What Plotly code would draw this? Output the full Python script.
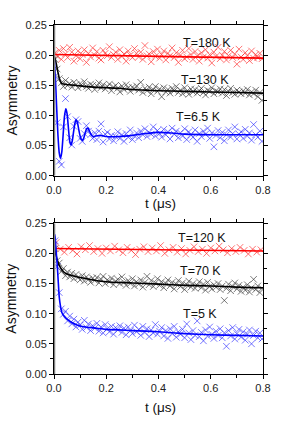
import plotly.graph_objects as go

# ---------------- data ----------------
T_GRID = [0.004, 0.012, 0.020, 0.028, 0.036, 0.044, 0.052, 0.060, 0.068, 0.076,
          0.084, 0.092, 0.100, 0.108, 0.116, 0.124, 0.132, 0.140, 0.148, 0.156,
          0.164, 0.172, 0.180, 0.188, 0.196, 0.204, 0.212, 0.220, 0.228, 0.236,
          0.244, 0.252, 0.260, 0.268, 0.276, 0.284, 0.292, 0.300, 0.308, 0.316,
          0.324, 0.332, 0.340, 0.348, 0.356, 0.364, 0.372, 0.380, 0.388, 0.396,
          0.404, 0.412, 0.420, 0.428, 0.436, 0.444, 0.452, 0.460, 0.468, 0.476,
          0.484, 0.492, 0.500, 0.508, 0.516, 0.524, 0.532, 0.540, 0.548, 0.556,
          0.564, 0.572, 0.580, 0.588, 0.596, 0.604, 0.612, 0.620, 0.628, 0.636,
          0.644, 0.652, 0.660, 0.668, 0.676, 0.684, 0.692, 0.700, 0.708, 0.716,
          0.724, 0.732, 0.740, 0.748, 0.756, 0.764, 0.772, 0.780, 0.788, 0.796]

T_GRID_SPARSE = [0.008, 0.024, 0.040, 0.056, 0.072, 0.088, 0.104, 0.120, 0.136, 0.152,
                 0.168, 0.184, 0.200, 0.216, 0.232, 0.248, 0.264, 0.280, 0.296, 0.312,
                 0.328, 0.344, 0.360, 0.376, 0.392, 0.408, 0.424, 0.440, 0.456, 0.472,
                 0.488, 0.504, 0.520, 0.536, 0.552, 0.568, 0.584, 0.600, 0.616, 0.632,
                 0.648, 0.664, 0.680, 0.696, 0.712, 0.728, 0.744, 0.760, 0.776, 0.792]

# top panel data
A_180K = [0.204, 0.198, 0.208, 0.193, 0.211, 0.202, 0.196, 0.213, 0.205, 0.190,
          0.199, 0.207, 0.194, 0.201, 0.209, 0.188, 0.203, 0.197, 0.212, 0.200,
          0.206, 0.195, 0.192, 0.208, 0.203, 0.199, 0.214, 0.196, 0.201, 0.205,
          0.193, 0.209, 0.198, 0.202, 0.190, 0.207, 0.200, 0.196, 0.211, 0.203,
          0.197, 0.205, 0.193, 0.216, 0.199, 0.202, 0.189, 0.206, 0.198, 0.210,
          0.195, 0.201, 0.207, 0.192, 0.203, 0.199, 0.212, 0.196, 0.204, 0.188,
          0.200, 0.208, 0.194, 0.197, 0.211, 0.201, 0.193, 0.206, 0.199, 0.190,
          0.204, 0.197, 0.209, 0.195, 0.201, 0.187, 0.205, 0.198, 0.213, 0.194,
          0.200, 0.206, 0.192, 0.199, 0.208, 0.196, 0.202, 0.185, 0.210, 0.197,
          0.193, 0.204, 0.199, 0.191, 0.207, 0.195, 0.201, 0.196, 0.203, 0.194]

A_130K = [0.193, 0.177, 0.161, 0.154, 0.148, 0.158, 0.150, 0.153, 0.147, 0.155,
          0.151, 0.146, 0.153, 0.149, 0.156, 0.148, 0.145, 0.152, 0.150, 0.143,
          0.149, 0.154, 0.146, 0.151, 0.144, 0.148, 0.152, 0.141, 0.147, 0.150,
          0.145, 0.139, 0.149, 0.143, 0.151, 0.146, 0.140, 0.147, 0.144, 0.149,
          0.142, 0.155, 0.138, 0.145, 0.141, 0.147, 0.136, 0.143, 0.148, 0.140,
          0.144, 0.131, 0.146, 0.139, 0.143, 0.137, 0.145, 0.141, 0.148, 0.138,
          0.142, 0.136, 0.146, 0.140, 0.135, 0.144, 0.139, 0.143, 0.137, 0.141,
          0.145, 0.138, 0.134, 0.142, 0.140, 0.146, 0.136, 0.141, 0.139, 0.144,
          0.137, 0.143, 0.133, 0.140, 0.145, 0.138, 0.135, 0.142, 0.139, 0.136,
          0.141, 0.137, 0.143, 0.134, 0.139, 0.136, 0.142, 0.131, 0.138, 0.125]

A_6_5K = [0.165, 0.088, 0.024, 0.018, 0.081, 0.128, 0.098, 0.063, 0.051, 0.082,
          0.093, 0.090, 0.062, 0.057, 0.070, 0.083, 0.074, 0.068, 0.062, 0.071,
          0.060, 0.074, 0.086, 0.056, 0.069, 0.072, 0.061, 0.067, 0.058, 0.065,
          0.073, 0.062, 0.068, 0.057, 0.070, 0.064, 0.076, 0.060, 0.066, 0.071,
          0.063, 0.074, 0.068, 0.078, 0.065, 0.072, 0.069, 0.081, 0.066, 0.075,
          0.070, 0.064, 0.077, 0.068, 0.073, 0.061, 0.079, 0.069, 0.074, 0.063,
          0.071, 0.066, 0.078, 0.060, 0.073, 0.068, 0.064, 0.076, 0.057, 0.070,
          0.065, 0.074, 0.069, 0.079, 0.062, 0.071, 0.048, 0.067, 0.075, 0.063,
          0.072, 0.058, 0.068, 0.076, 0.064, 0.070, 0.081, 0.061, 0.069, 0.073,
          0.062, 0.077, 0.066, 0.071, 0.059, 0.085, 0.068, 0.064, 0.074, 0.057]

# bottom panel data
A_120K = [0.218, 0.207, 0.202, 0.210, 0.205, 0.199, 0.211, 0.206, 0.213, 0.203,
          0.208, 0.200, 0.209, 0.204, 0.212, 0.206, 0.201, 0.210, 0.205, 0.198,
          0.207, 0.211, 0.203, 0.209, 0.204, 0.213, 0.200, 0.206, 0.210, 0.202,
          0.208, 0.199, 0.205, 0.211, 0.203, 0.207, 0.200, 0.209, 0.204, 0.212,
          0.206, 0.201, 0.208, 0.203, 0.210, 0.205, 0.199, 0.207, 0.202, 0.206]

A_70K = [0.208, 0.188, 0.184, 0.170, 0.175, 0.163, 0.169, 0.161, 0.167, 0.158,
         0.165, 0.160, 0.156, 0.163, 0.154, 0.161, 0.157, 0.152, 0.159, 0.155,
         0.160, 0.151, 0.157, 0.162, 0.150, 0.156, 0.153, 0.159, 0.148, 0.154,
         0.157, 0.150, 0.161, 0.152, 0.147, 0.155, 0.150, 0.158, 0.146, 0.153,
         0.149, 0.156, 0.144, 0.152, 0.162, 0.148, 0.155, 0.145, 0.151, 0.158,
         0.147, 0.153, 0.143, 0.150, 0.156, 0.146, 0.152, 0.141, 0.149, 0.155,
         0.145, 0.151, 0.140, 0.148, 0.154, 0.144, 0.150, 0.142, 0.147, 0.153,
         0.143, 0.149, 0.139, 0.152, 0.145, 0.141, 0.148, 0.144, 0.150, 0.140,
         0.146, 0.122, 0.142, 0.149, 0.138, 0.145, 0.151, 0.141, 0.147, 0.137,
         0.144, 0.139, 0.148, 0.136, 0.143, 0.157, 0.140, 0.146, 0.135, 0.142]

A_5K = [0.221, 0.178, 0.135, 0.108, 0.099, 0.104, 0.088, 0.096, 0.083, 0.091,
        0.078, 0.086, 0.081, 0.074, 0.089, 0.077, 0.083, 0.072, 0.080, 0.076,
        0.084, 0.071, 0.078, 0.068, 0.082, 0.075, 0.070, 0.079, 0.066, 0.077,
        0.073, 0.080, 0.069, 0.076, 0.065, 0.078, 0.072, 0.067, 0.081, 0.070,
        0.074, 0.064, 0.079, 0.069, 0.075, 0.062, 0.073, 0.068, 0.082, 0.066,
        0.071, 0.077, 0.063, 0.072, 0.059, 0.075, 0.067, 0.079, 0.061, 0.070,
        0.066, 0.074, 0.060, 0.083, 0.068, 0.057, 0.072, 0.064, 0.088, 0.062,
        0.069, 0.055, 0.073, 0.063, 0.078, 0.066, 0.059, 0.071, 0.064, 0.075,
        0.060, 0.068, 0.046, 0.072, 0.063, 0.077, 0.058, 0.067, 0.074, 0.061,
        0.070, 0.056, 0.066, 0.073, 0.050, 0.064, 0.071, 0.060, 0.068, 0.058]

# fit curves
FIT_T_180K = [0.0, 0.4, 0.8]
FIT_A_180K = [0.201, 0.198, 0.195]

FIT_T_130K = [0.0, 0.005, 0.01, 0.015, 0.02, 0.025, 0.03, 0.04, 0.05, 0.06, 0.08, 0.1,
              0.15, 0.2, 0.25, 0.3, 0.35, 0.4, 0.5, 0.6, 0.7, 0.8]
FIT_A_130K = [0.200, 0.193, 0.183, 0.172, 0.162, 0.156, 0.153, 0.152, 0.151, 0.151, 0.150, 0.149,
              0.147, 0.146, 0.145, 0.143, 0.142, 0.141, 0.140, 0.139, 0.138, 0.137]

FIT_T_6_5K = [0.0, 0.005, 0.01, 0.015, 0.02, 0.025, 0.03, 0.035, 0.04, 0.045, 0.05, 0.055,
              0.06, 0.065, 0.07, 0.075, 0.08, 0.085, 0.09, 0.095, 0.1, 0.105, 0.11, 0.115,
              0.12, 0.125, 0.13, 0.135, 0.14, 0.15, 0.16, 0.18, 0.2, 0.25, 0.3, 0.35, 0.4,
              0.45, 0.5, 0.6, 0.7, 0.8]
FIT_A_6_5K = [0.200, 0.165, 0.115, 0.068, 0.038, 0.029, 0.040, 0.068, 0.098, 0.111, 0.103, 0.080,
              0.058, 0.051, 0.058, 0.073, 0.087, 0.093, 0.088, 0.076, 0.066, 0.060, 0.059, 0.064,
              0.072, 0.078, 0.079, 0.075, 0.070, 0.065, 0.066, 0.067, 0.065, 0.065, 0.067, 0.070, 0.072,
              0.071, 0.069, 0.068, 0.068, 0.068]

FIT_T_120K = [0.0, 0.4, 0.8]
FIT_A_120K = [0.208, 0.206, 0.204]

FIT_T_70K = [0.0, 0.005, 0.01, 0.015, 0.02, 0.03, 0.04, 0.06, 0.08, 0.1, 0.15, 0.2,
             0.3, 0.4, 0.5, 0.6, 0.7, 0.8]
FIT_A_70K = [0.217, 0.203, 0.193, 0.186, 0.180, 0.173, 0.168, 0.164, 0.162, 0.160, 0.156, 0.153,
             0.151, 0.149, 0.147, 0.146, 0.144, 0.143]

FIT_T_5K = [0.002, 0.004, 0.008, 0.012, 0.016, 0.02, 0.025, 0.03, 0.04, 0.05, 0.07, 0.09,
            0.12, 0.16, 0.2, 0.3, 0.4, 0.5, 0.6, 0.7, 0.8]
FIT_A_5K = [0.232, 0.228, 0.205, 0.183, 0.155, 0.128, 0.112, 0.102, 0.095, 0.091, 0.085, 0.081,
            0.078, 0.076, 0.074, 0.072, 0.070, 0.067, 0.065, 0.064, 0.063]

LABELS_TOP = ["T=180 K", "T=130 K", "T=6.5 K"]
LABEL_POS_TOP = [(0.585, 0.2205), (0.577, 0.159), (0.554, 0.0976)]
LABELS_BOT = ["T=120 K", "T=70 K", "T=5 K"]
LABEL_POS_BOT = [(0.566, 0.2256), (0.562, 0.1714), (0.558, 0.0995)]

X_TICKS = [0.0, 0.2, 0.4, 0.6, 0.8]
X_TICK_TEXT = ["0.0", "0.2", "0.4", "0.6", "0.8"]
Y_TICKS = [0.00, 0.05, 0.10, 0.15, 0.20, 0.25]
Y_TICK_TEXT = ["0.00", "0.05", "0.10", "0.15", "0.20", "0.25"]

# ---------------- styling ----------------
FONT = "Liberation Sans, Arial, sans-serif"
MARK_COL = {"red": "rgba(255,40,40,0.65)", "black": "rgba(50,50,50,0.65)", "blue": "rgba(30,30,255,0.6)"}
LINE_COL = {"red": "#ff0000", "black": "#000000", "blue": "#0000ff"}

W, H = 299, 431
ML, MR, MT, MB = 54, 36, 25, 57
PW, PH = W - ML - MR, H - MT - MB

fig = go.Figure()

def add_panel(xa, ya, series):
    for t, a, ft, fa, col in series:
        fig.add_trace(go.Scatter(x=t, y=a, mode="markers", xaxis=xa, yaxis=ya,
                                 marker=dict(symbol="x-thin", size=6.5,
                                             line=dict(width=1, color=MARK_COL[col])),
                                 showlegend=False, hoverinfo="skip"))
    for t, a, ft, fa, col in series:
        fig.add_trace(go.Scatter(x=ft, y=fa, mode="lines", xaxis=xa, yaxis=ya,
                                 line=dict(color=LINE_COL[col], width=1.6, shape="spline", smoothing=0.6),
                                 showlegend=False, hoverinfo="skip"))

add_panel("x", "y", [
    (T_GRID, A_180K, FIT_T_180K, FIT_A_180K, "red"),
    (T_GRID, A_130K, FIT_T_130K, FIT_A_130K, "black"),
    (T_GRID, A_6_5K, FIT_T_6_5K, FIT_A_6_5K, "blue"),
])
add_panel("x2", "y2", [
    (T_GRID_SPARSE, A_120K, FIT_T_120K, FIT_A_120K, "red"),
    (T_GRID, A_70K, FIT_T_70K, FIT_A_70K, "black"),
    (T_GRID, A_5K, FIT_T_5K, FIT_A_5K, "blue"),
])

xcommon = dict(range=[0, 0.8], tickvals=X_TICKS, ticktext=X_TICK_TEXT, ticks="outside", ticklen=4,
               tickwidth=1, tickcolor="black", showline=True, linecolor="black", linewidth=1,
               mirror="allticks", showgrid=False, zeroline=False,
               minor=dict(dtick=0.1, ticks="outside", ticklen=3, tickcolor="black", showgrid=False),
               tickfont=dict(family=FONT, size=11, color="#222"))
ycommon = dict(range=[0, 0.25], tickvals=Y_TICKS, ticktext=Y_TICK_TEXT, ticks="outside", ticklen=4,
               tickwidth=1, tickcolor="black", showline=True, linecolor="black", linewidth=1,
               mirror="allticks", showgrid=False, zeroline=False,
               minor=dict(dtick=0.025, ticks="outside", ticklen=3, tickcolor="black", showgrid=False),
               tickfont=dict(family=FONT, size=11, color="#222"))

fig.update_layout(
    width=W, height=H,
    margin=dict(l=ML, r=MR, t=MT, b=MB),
    paper_bgcolor="white", plot_bgcolor="white",
    xaxis=dict(xcommon, anchor="y"),
    yaxis=dict(ycommon, domain=[0.568, 1.0], anchor="x"),
    xaxis2=dict(xcommon, anchor="y2"),
    yaxis2=dict(ycommon, domain=[0.0, 0.432], anchor="x2"),
)

# thick grey left axis line (Origin style)
for xr, yr in (("x", "y"), ("x2", "y2")):
    fig.add_shape(type="line", xref=xr, yref=yr, x0=0, x1=0, y0=0, y1=0.25,
                  line=dict(color="#808080", width=2.5), layer="above")

def px_to_paper(px, py):
    return (px - ML) / PW, (H - py - MB) / PH

anns = []
for txt, (x, y) in zip(LABELS_TOP, LABEL_POS_TOP):
    anns.append(dict(text=txt, x=x, y=y, xref="x", yref="y", showarrow=False,
                     xanchor="center", yanchor="middle",
                     font=dict(family=FONT, size=12.5, color="#111")))
for txt, (x, y) in zip(LABELS_BOT, LABEL_POS_BOT):
    anns.append(dict(text=txt, x=x, y=y, xref="x2", yref="y2", showarrow=False,
                     xanchor="center", yanchor="middle",
                     font=dict(family=FONT, size=12.5, color="#111")))
# axis titles
for ypix in (203, 407):
    xp, yp = px_to_paper(160, ypix)
    anns.append(dict(text="t (μs)", x=xp, y=yp, xref="paper", yref="paper", showarrow=False,
                     xanchor="center", yanchor="middle",
                     font=dict(family=FONT, size=13.5, color="#111")))
for ycen in (100.5, 298.7):
    xp, yp = px_to_paper(11, ycen)
    anns.append(dict(text="Asymmetry", x=xp, y=yp, xref="paper", yref="paper", textangle=-90,
                     showarrow=False, xanchor="center", yanchor="middle",
                     font=dict(family=FONT, size=14, color="#111")))
fig.update_layout(annotations=anns)

# remove the browser's default 8 px page margin so the figure fills the window
fig.write_html("out.html",
               config={"displayModeBar": False, "staticPlot": True},
               post_script="document.body.style.margin='0';document.body.style.padding='0';")
